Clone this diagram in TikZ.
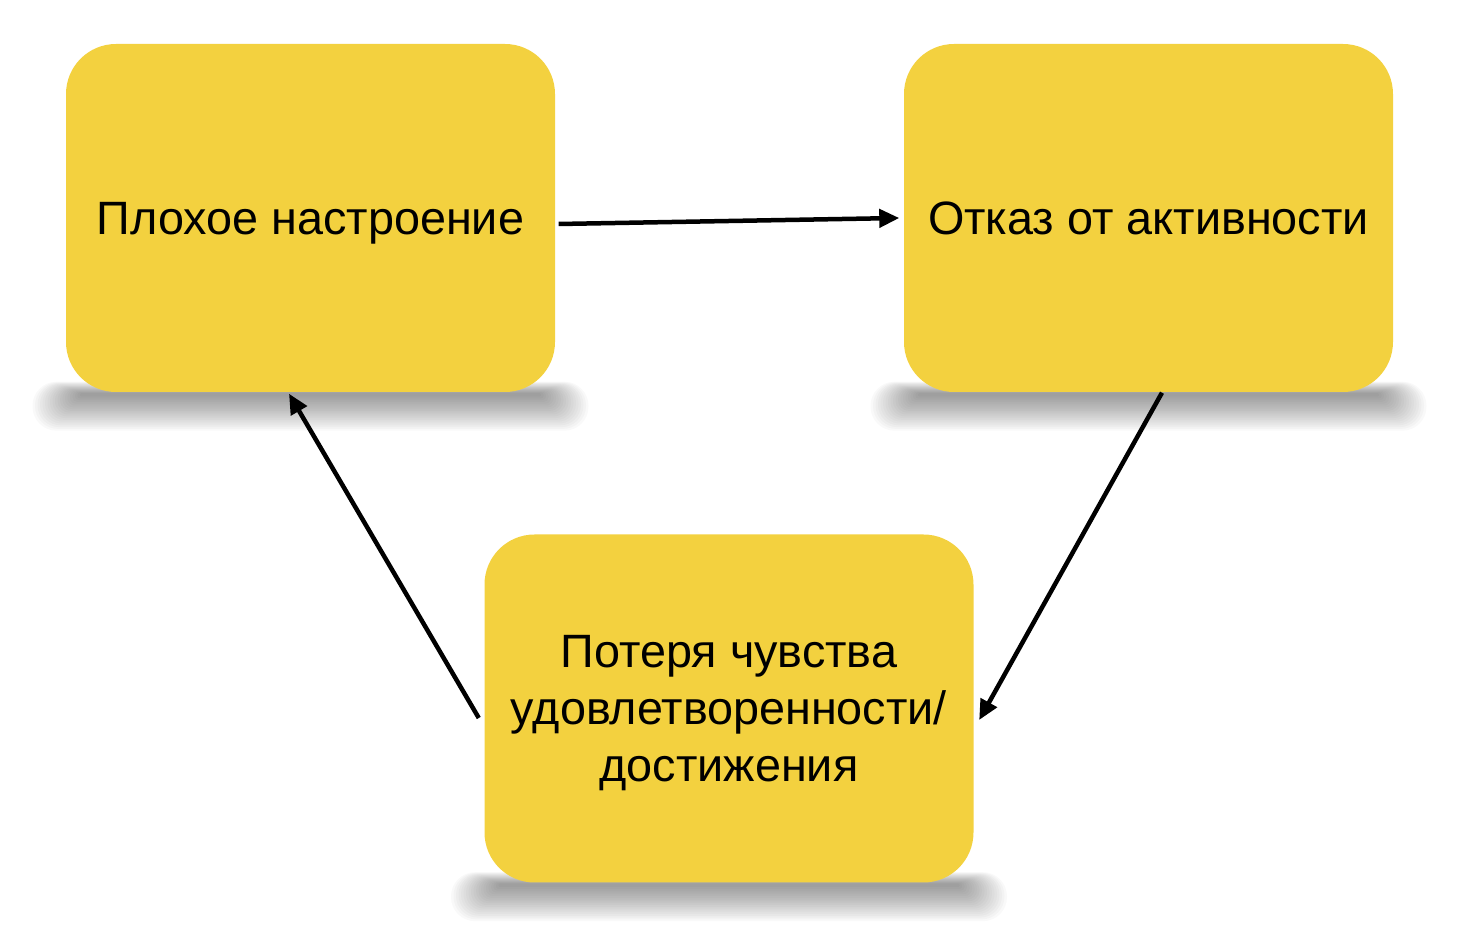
\documentclass[tikz,border=0pt]{standalone}
\usepackage{fontspec}
\setmainfont{Liberation Sans}
\usetikzlibrary{arrows.meta, backgrounds}
\newcommand{\pxsize}{0.01cm}
\definecolor{boxyellow}{RGB}{243,209,63}

\begin{document}
\begin{tikzpicture}
\useasboundingbox (0,0) rectangle (1462*\pxsize,-952*\pxsize);
\tikzstyle{stepbox}=[fill=boxyellow,
			rounded corners=50*\pxsize,
			minimum width=489*\pxsize,
			minimum height=348*\pxsize,
			align=center,
			inner sep=0pt,
			text depth=0pt,
			font=\fontsize{13.3}{16.3}\selectfont
			]
\tikzstyle{link}=[line width=4.5*\pxsize,
			-{Triangle[length=20*\pxsize, width=18*\pxsize]}
			]


\node[stepbox] (plohoe) at (310.5*\pxsize,-218*\pxsize) {Плохое настроение};
        

\node[stepbox] (otkaz) at (1148.5*\pxsize,-218*\pxsize) {Отказ от активности};
        

\node[stepbox] (poterya) at (729*\pxsize,-708.5*\pxsize) {Потеря чувства\\удовлетворенности/\\достижения};
        

% soft shadows under the boxes
\begin{scope}[on background layer]
\foreach \nd in {plohoe, otkaz, poterya}
  \foreach \k in {1,...,20}
    \fill[black, opacity=0.022, rounded corners=1.2*\k*\pxsize]
      ([xshift=-(228+2.5*\k)*\pxsize, yshift=(0.6*\k-1)*\pxsize]\nd.south)
      rectangle ([xshift=(228+2.5*\k)*\pxsize, yshift=-(1.8*\k+2)*\pxsize]\nd.south);
\end{scope}


\draw[link] ([xshift=3*\pxsize, yshift=-6*\pxsize]plohoe.east) -- ([xshift=-4*\pxsize]otkaz.west);
    

\draw[link] ([xshift=13.5*\pxsize]otkaz.south) -- ([xshift=5*\pxsize, yshift=-11.5*\pxsize]poterya.east);
    

\draw[link] ([xshift=-5*\pxsize, yshift=-9.5*\pxsize]poterya.west) -- ([xshift=-21.5*\pxsize, yshift=-1*\pxsize]plohoe.south);
    

\end{tikzpicture}
\end{document}
